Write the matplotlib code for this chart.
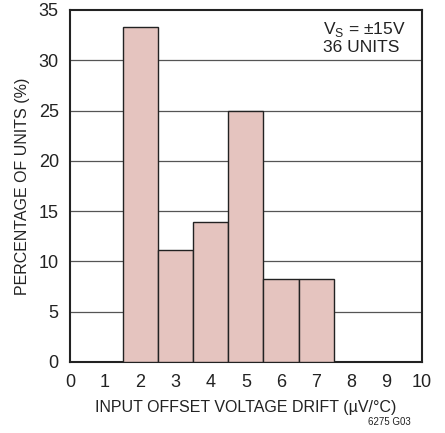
import matplotlib
matplotlib.use('Agg')
import matplotlib.pyplot as plt

plt.rcParams['font.family'] = ['Liberation Sans', 'DejaVu Sans']

# histogram bins (uV/C) and percentage of units
centers = [2, 3, 4, 5, 6, 7]
percent = [33.3, 11.1, 13.9, 25.0, 8.3, 8.3]
xticks = [0, 1, 2, 3, 4, 5, 6, 7, 8, 9, 10]
yticks = [0, 5, 10, 15, 20, 25, 30, 35]

fig = plt.figure(figsize=(4.45, 4.33), dpi=100)
ax = fig.add_axes([0.157, 0.164, 0.791, 0.813])

ax.bar(centers, percent, width=1.0, color='#e5c4bf', edgecolor='#222222', linewidth=1.0, zorder=3)
for y in yticks[1:-1]:
    ax.axhline(y, color='#555555', linewidth=0.9, zorder=1)

ax.set_xlim(0, 10)
ax.set_ylim(0, 35)
ax.set_xticks(xticks)
ax.set_yticks(yticks)
ax.tick_params(length=0, labelsize=13, colors='#222222')
ax.tick_params(axis='x', pad=9)
ax.tick_params(axis='y', pad=8)
for s in ax.spines.values():
    s.set_linewidth(1.5)
    s.set_color('#222222')

ax.set_xlabel('INPUT OFFSET VOLTAGE DRIFT (µV/°C)', fontsize=11.5, color='#222222', labelpad=6)
ax.set_ylabel('PERCENTAGE OF UNITS (%)', fontsize=11.5, color='#222222', labelpad=6)

ax.text(7.18, 34.0, 'V$_\\mathregular{S}$ = ±15V\n36 UNITS', fontsize=12.5, color='#222222',
        va='top', ha='left', linespacing=1.05, zorder=4,
        bbox=dict(facecolor='white', edgecolor='none', pad=3))

fig.text(0.922, 0.015, '6275 G03', fontsize=7, ha='right', va='bottom', color='#222222')

fig.savefig('out.png', dpi=100)
